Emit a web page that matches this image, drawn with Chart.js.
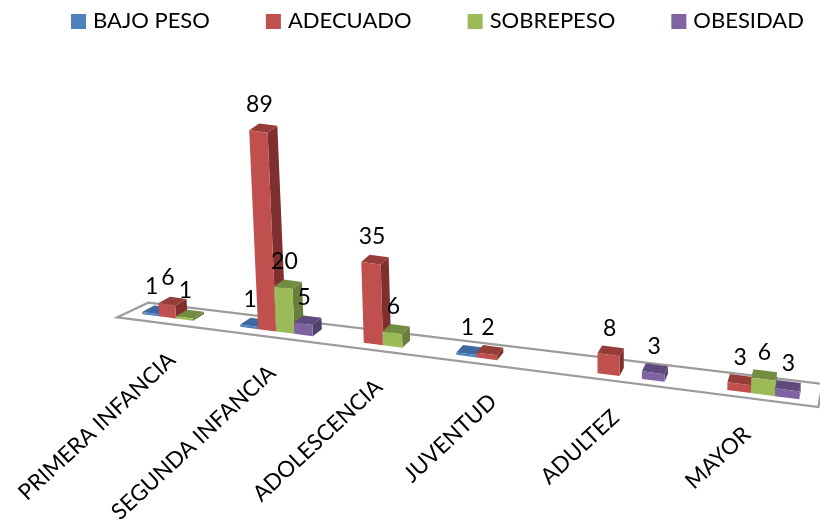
<!DOCTYPE html>
<html lang="es">
<head>
<meta charset="utf-8">
<title>Estado nutricional por curso de vida</title>
<script src="https://cdn.jsdelivr.net/npm/chart.js@4"></script>
<style>
    html, body { margin: 0; padding: 0; background: #fff; }
    canvas { display: block; }
</style>
</head>
<body>
<canvas id="grafico" width="820" height="527"></canvas>
<script>
// Datos
const categorias = ['PRIMERA INFANCIA', 'SEGUNDA INFANCIA', 'ADOLESCENCIA', 'JUVENTUD', 'ADULTEZ', 'MAYOR'];
const bajoPeso = [1, 1, null, 1, null, null];
const adecuado = [6, 89, 35, 2, 8, 3];
const sobrepeso = [1, 20, 6, null, null, 6];
const obesidad = [null, 5, null, null, 3, 3];

const fuente = 'Lato, "Open Sans", sans-serif';

// Colores: frente, tapa, lateral
const colores = [
    ['#4F81BD', '#3F69A0', '#35598A'],
    ['#C0504D', '#963D3A', '#7F302E'],
    ['#9BBB59', '#738C41', '#687F39'],
    ['#8064A2', '#5F4A7D', '#54406F']
];

// Perspectiva del piso: pasa de la posicion del eje a la de la pantalla
function pisoX(u) {
    const i = u * categorias.length - 0.5;
    return (91.53 * i + 176) / (1 - 0.03125 * i);
}
function pisoY(x) {
    return 318.5 + 0.1296 * (x - 176);
}
function escala(u) {
    const i = u * categorias.length - 0.5;
    return 1 / (1 - 0.03125 * i);
}
function inclinacion(x) {
    return (597 - x) / 7500;
}
function fondoX(x) {
    return (880 - x) * 0.016;
}

function poligono(ctx, puntos, color) {
    ctx.fillStyle = color;
    ctx.beginPath();
    puntos.forEach((p, n) => n ? ctx.lineTo(p[0], p[1]) : ctx.moveTo(p[0], p[1]));
    ctx.closePath();
    ctx.fill();
}

// Calcula las esquinas de una barra ya proyectada
function barra3d(chart, el) {
    const area = chart.chartArea;
    const u0 = (el.x - el.width / 2 - area.left) / area.width;
    const u1 = (el.x + el.width / 2 - area.left) / area.width;
    const um = (u0 + u1) / 2;
    const x0 = pisoX(u0), x1 = pisoX(u1);
    const h = (el.base - el.y) * 217 / area.height * escala(um);
    const dy = 6.5 + 2 * um;
    return {
        x0, x1, h, dy,
        y0: pisoY(x0),
        y1: pisoY(x1),
        tx0: x0 - inclinacion(x0) * h,
        tx1: x1 - inclinacion(x1) * h,
        d0: fondoX(x0),
        d1: fondoX(x1)
    };
}

const barras3d = {
    id: 'barras3d',
    beforeDatasetsDraw(chart) {
        const ctx = chart.ctx;
        ctx.save();

        // Leyenda en una sola linea, con la separacion del original
        ctx.font = '22px ' + fuente;
        ctx.textAlign = 'left';
        ctx.textBaseline = 'middle';
        let xLey = 71;
        chart.data.datasets.forEach(ds => {
            ctx.fillStyle = ds.backgroundColor;
            ctx.fillRect(xLey, 14, 15, 15);
            ctx.fillStyle = '#000';
            ctx.fillText(ds.label, xLey + 22, 21);
            xLey += 22 + ctx.measureText(ds.label).width + 56;
        });

        // Piso del grafico
        const xa = pisoX(0), xb = pisoX(1);
        const ya = pisoY(xa), yb = pisoY(xb);
        ctx.strokeStyle = '#9C9C9C';
        ctx.lineWidth = 2.2;
        ctx.beginPath();
        ctx.moveTo(xa - 11, ya + 5);
        ctx.lineTo(xb - 2, yb + 5);
        ctx.lineTo(xb + 2, yb - 18);
        ctx.lineTo(xa + 20, ya - 9.6);
        ctx.closePath();
        ctx.stroke();
        ctx.restore();

        // Barras de izquierda a derecha, para que cada una tape el lateral de la anterior
        chart.data.datasets.forEach((ds, d) => {
            const c = colores[d];
            chart.getDatasetMeta(d).data.forEach((el, i) => {
                if (ds.data[i] === null) return;
                const b = barra3d(chart, el);
                const t0 = b.y0 - b.h, t1 = b.y1 - b.h;
                // Lateral
                poligono(ctx, [[b.x1, b.y1], [b.tx1, t1], [b.tx1 + b.d1, t1 - b.dy], [b.x1 + b.d1, b.y1 - b.dy]], c[2]);
                // Tapa
                poligono(ctx, [[b.tx0, t0], [b.tx1, t1], [b.tx1 + b.d1, t1 - b.dy], [b.tx0 + b.d0, t0 - b.dy]], c[1]);
                // Frente
                poligono(ctx, [[b.x0, b.y0], [b.x1, b.y1], [b.tx1, t1], [b.tx0, t0]], c[0]);
            });
        });
    },
    beforeDatasetDraw() {
        // Las barras planas de la libreria no se dibujan
        return false;
    },
    afterDatasetsDraw(chart) {
        const ctx = chart.ctx;
        ctx.save();
        ctx.fillStyle = '#000';
        ctx.font = '23px ' + fuente;

        // Valores sobre cada barra
        ctx.textAlign = 'center';
        ctx.textBaseline = 'middle';
        chart.data.datasets.forEach((ds, d) => {
            chart.getDatasetMeta(d).data.forEach((el, i) => {
                if (ds.data[i] === null) return;
                const b = barra3d(chart, el);
                const xm = (b.tx0 + b.tx1) / 2 + 1;
                const ym = (b.y0 + b.y1) / 2 - b.h;
                ctx.fillText(ds.data[i], xm, ym - 26.5);
            });
        });

        // Etiquetas del eje, giradas
        const ejeX = chart.scales.x;
        ctx.font = '22.3px ' + fuente;
        ctx.textAlign = 'right';
        categorias.forEach((nombre, i) => {
            const u = (ejeX.getPixelForTick(i) - chart.chartArea.left) / chart.chartArea.width;
            const x = pisoX(u);
            ctx.save();
            ctx.translate(x - 4, pisoY(x) + 38);
            ctx.rotate(-43 * Math.PI / 180);
            ctx.fillText(nombre, 0, 0);
            ctx.restore();
        });
        ctx.restore();
    }
};

const ctx = document.getElementById('grafico').getContext('2d');
new Chart(ctx, {
    type: 'bar',
    plugins: [barras3d],
    data: {
        labels: categorias,
        datasets: [
            { label: 'BAJO PESO', data: bajoPeso, backgroundColor: colores[0][0] },
            { label: 'ADECUADO', data: adecuado, backgroundColor: colores[1][0] },
            { label: 'SOBREPESO', data: sobrepeso, backgroundColor: colores[2][0] },
            { label: 'OBESIDAD', data: obesidad, backgroundColor: colores[3][0] }
        ]
    },
    options: {
        responsive: false,
        animation: false,
        categoryPercentage: 0.7,
        barPercentage: 1,
        layout: { padding: { top: 150, bottom: 160 } },
        scales: {
            x: { display: false },
            y: { display: false, min: 0, max: 100 }
        },
        plugins: {
            tooltip: { enabled: false },
            legend: { display: false }
        }
    }
});
</script>
</body>
</html>
